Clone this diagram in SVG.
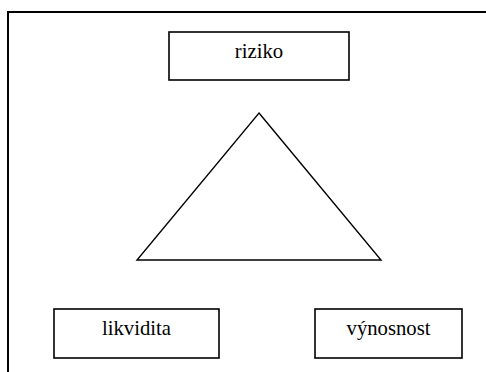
<svg xmlns="http://www.w3.org/2000/svg" width="486" height="372" viewBox="0 0 486 372">
<style>
.box{fill:#fff;stroke:#000;stroke-width:1.6}
.lbl{font-family:'Liberation Serif','Times New Roman',serif;font-size:20.7px;fill:#000;text-anchor:middle}
.tri{fill:none;stroke:#000;stroke-width:1.4;stroke-linejoin:miter}
</style>
<rect width="486" height="372" fill="#fff"/>
<path d="M8 380 V12 H490" fill="none" stroke="#000" stroke-width="2"/>
<g id="riziko">
<rect class="box" x="169" y="32" width="180" height="48"/>
<text class="lbl" x="259" y="58" font-family="Liberation Serif, serif">riziko</text>
</g>
<g id="likvidita">
<rect class="box" x="54" y="309" width="165" height="49"/>
<text class="lbl" x="136.5" y="335" font-family="Liberation Serif, serif">likvidita</text>
</g>
<g id="vynosnost">
<rect class="box" x="315" y="309" width="147" height="49"/>
<text class="lbl" x="388.5" y="335" font-family="Liberation Serif, serif">výnosnost</text>
</g>
<g id="connectors">
<polygon class="tri" points="259,113 381,260 137,260"/>
</g>
</svg>
